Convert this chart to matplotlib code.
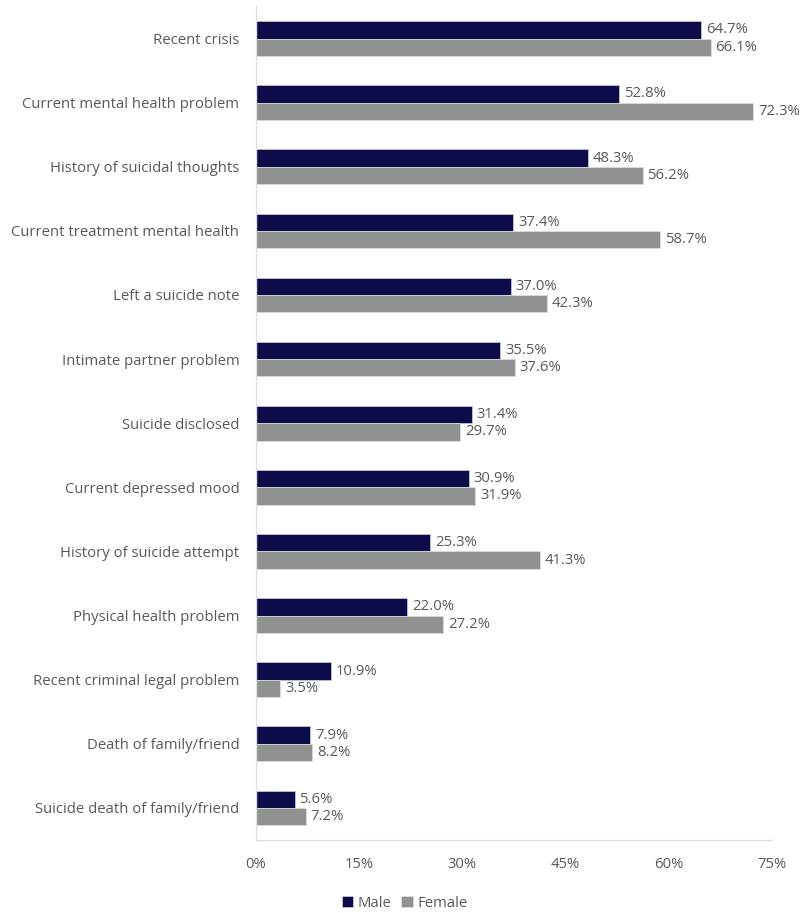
import matplotlib.pyplot as plt
import numpy as np

plt.rcParams['font.family'] = ['Open Sans', 'DejaVu Sans']

categories = ["Recent crisis", "Current mental health problem", "History of suicidal thoughts",
              "Current treatment mental health", "Left a suicide note", "Intimate partner problem",
              "Suicide disclosed", "Current depressed mood", "History of suicide attempt",
              "Physical health problem", "Recent criminal legal problem", "Death of family/friend",
              "Suicide death of family/friend"]
male = [64.7, 52.8, 48.3, 37.4, 37.0, 35.5, 31.4, 30.9, 25.3, 22.0, 10.9, 7.9, 5.6]
female = [66.1, 72.3, 56.2, 58.7, 42.3, 37.6, 29.7, 31.9, 41.3, 27.2, 3.5, 8.2, 7.2]
ticks = [0, 15, 30, 45, 60, 75]

navy = '#0c0c4a'
grey = '#919191'
txt = '#595959'
fs = 10.75

fig = plt.figure(figsize=(8.01, 9.13), dpi=100)
ax = fig.add_axes([0.3196, 0.08, 0.6442, 0.9129])

y = np.arange(len(categories))
h = 0.27
ax.barh(y - h / 2, male, height=h, color=navy, edgecolor='#d0d0e0', linewidth=0.5, label='Male')
ax.barh(y + h / 2, female, height=h, color=grey, edgecolor='#e0e0e0', linewidth=0.5, label='Female')

for i in range(len(categories)):
    ax.text(male[i] + 0.7, y[i] - h / 2, f"{male[i]:.1f}%", va='center', ha='left', fontsize=fs, color=txt)
    ax.text(female[i] + 0.7, y[i] + h / 2, f"{female[i]:.1f}%", va='center', ha='left', fontsize=fs, color=txt)

ax.set_ylim(len(categories) - 0.5, -0.5)
ax.set_xlim(0, 75)
ax.set_yticks(y)
ax.set_yticklabels(categories, fontsize=fs, color=txt)
ax.set_xticks(ticks)
ax.set_xticklabels([f"{t}%" for t in ticks], fontsize=fs, color=txt)
ax.tick_params(axis='both', length=0)
ax.tick_params(axis='y', pad=12)
ax.tick_params(axis='x', pad=12)
for s in ['top', 'right']:
    ax.spines[s].set_visible(False)
for s in ['left', 'bottom']:
    ax.spines[s].set_color('#e0e0e0')
    ax.spines[s].set_linewidth(1)

fig.legend(loc='lower center', bbox_to_anchor=(0.505, -0.012), ncol=2, frameon=False, fontsize=fs,
           handlelength=0.8, handleheight=0.8, handletextpad=0.3, columnspacing=0.6,
           labelcolor=txt)

fig.savefig('out.png', dpi=100)
